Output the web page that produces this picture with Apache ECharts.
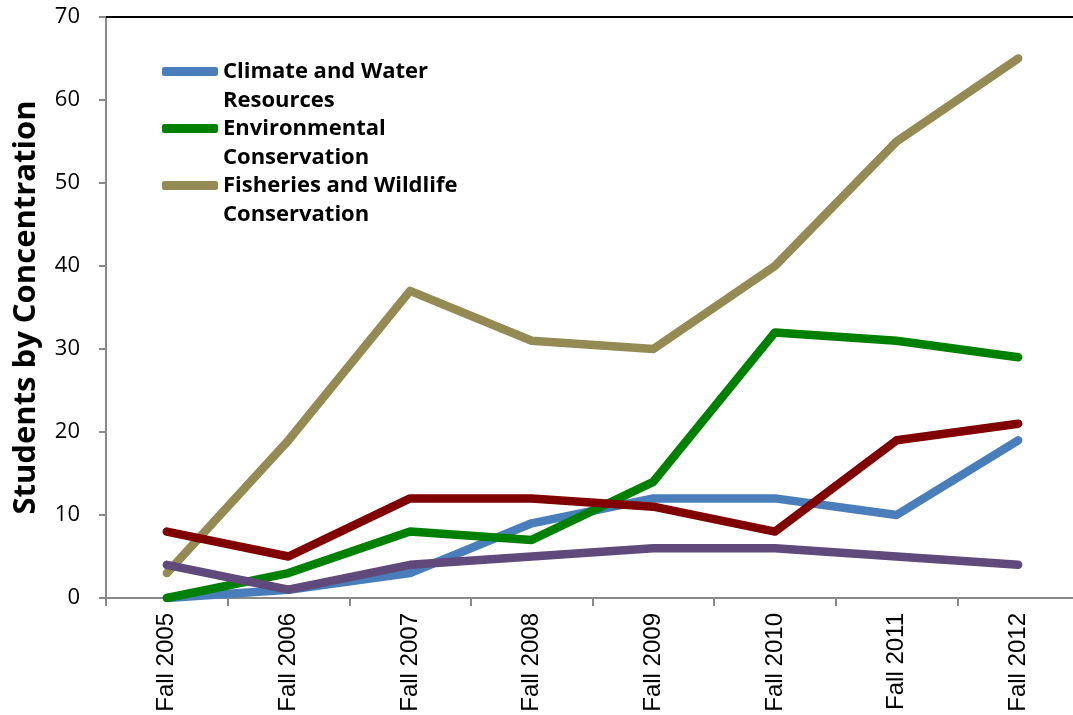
<!DOCTYPE html>
<html>
<head>
<meta charset="utf-8">
<script src="https://cdn.jsdelivr.net/npm/echarts@6/dist/echarts.min.js"></script>
<style>
html, body { margin: 0; padding: 0; background: #fff; }
#studentsChart { width: 1073px; height: 715px; }
</style>
</head>
<body>
<div id="studentsChart"></div>
<script>
"use strict";
var terms = ['Fall 2005', 'Fall 2006', 'Fall 2007', 'Fall 2008', 'Fall 2009', 'Fall 2010', 'Fall 2011', 'Fall 2012'];
var climateWater = [0, 1, 3, 9, 12, 12, 10, 19];
var environmental = [0, 3, 8, 7, 14, 32, 31, 29];
var fisheriesWildlife = [3, 19, 37, 31, 30, 40, 55, 65];
var otherRed = [8, 5, 12, 12, 11, 8, 19, 21];
var otherPurple = [4, 1, 4, 5, 6, 6, 5, 4];
var legendNames = ['Climate and Water\nResources', 'Environmental\nConservation', 'Fisheries and Wildlife\nConservation'];

function lineSeries(name, data, color) {
	return {
		name : name,
		type : 'line',
		data : data,
		symbol : 'none',
		lineStyle : {
			width : 8.5,
			color : color,
			cap : 'round',
			join : 'round'
		},
		itemStyle : { color : color }
	};
}

function studentsChart() {
	var chart = echarts.init(document.getElementById('studentsChart'));
	chart.setOption({
		animation : false,
		grid : {
			left : 106,
			width : 973,
			top : 17,
			bottom : 117,
			outerBoundsMode : 'none',
			containLabel : false
		},
		legend : {
			data : legendNames,
			orient : 'vertical',
			left : 162,
			top : 28,
			padding : 0,
			itemGap : -30,
			itemWidth : 56,
			itemHeight : 9,
			icon : 'roundRect',
			formatter : function(name) {
				return '\n' + name;
			},
			textStyle : {
				fontFamily : 'Open Sans',
				fontWeight : 'bold',
				fontSize : 22,
				lineHeight : 29,
				color : '#000'
			}
		},
		xAxis : [ {
			type : 'category',
			data : terms,
			boundaryGap : true,
			axisLine : { lineStyle : { color : '#898989', width : 2 } },
			axisTick : { show : true, length : 8, lineStyle : { color : '#898989', width : 2 } },
			axisLabel : {
				rotate : 90,
				margin : 15,
				fontFamily : 'Liberation Sans',
				fontSize : 24,
				color : '#000'
			},
			splitLine : { show : false }
		}, {
			type : 'category',
			data : terms,
			position : 'top',
			axisLine : { lineStyle : { color : '#000', width : 2 } },
			axisTick : { show : false },
			axisLabel : { show : false }
		} ],
		yAxis : {
			type : 'value',
			min : 0,
			max : 70,
			interval : 10,
			name : 'Students by Concentration',
			nameLocation : 'middle',
			nameGap : 64,
			nameTextStyle : {
				fontFamily : 'Open Sans',
				fontWeight : 'bold',
				fontSize : 31,
				color : '#000'
			},
			axisLine : { show : true, lineStyle : { color : '#898989', width : 2 } },
			axisTick : { show : true, length : 7, lineStyle : { color : '#898989', width : 2 } },
			axisLabel : {
				margin : 26,
				fontFamily : 'Open Sans',
				fontSize : 22,
				color : '#000'
			},
			splitLine : { show : false }
		},
		series : [
			lineSeries(legendNames[0], climateWater, '#4a7ebb'),
			lineSeries(legendNames[1], environmental, '#008000'),
			lineSeries(legendNames[2], fisheriesWildlife, '#948a54'),
			lineSeries('Other 1', otherRed, '#800000'),
			lineSeries('Other 2', otherPurple, '#604a7b')
		]
	});
}

studentsChart();
</script>
</body>
</html>
